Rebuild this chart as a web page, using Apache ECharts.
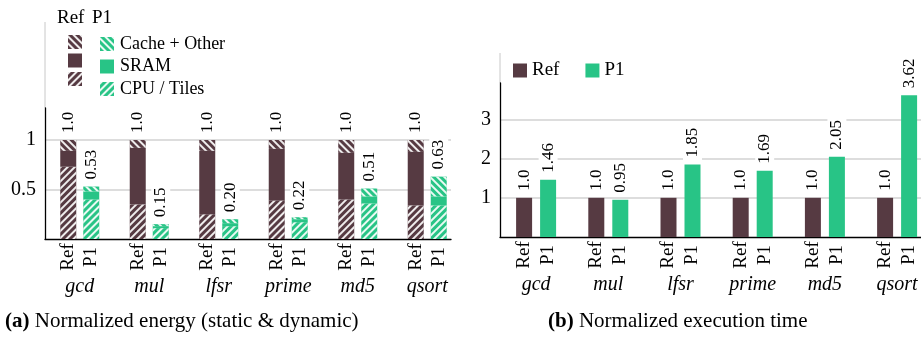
<!DOCTYPE html>
<html>
<head>
<meta charset="utf-8">
<script src="https://cdn.jsdelivr.net/npm/echarts@6/dist/echarts.min.js"></script>
<style>
html,body{margin:0;padding:0;background:#fff;}
#chart{width:921px;height:337px;}
</style>
</head>
<body>
<div id="chart"></div>
<script>
// ---------- data ----------
const categories = ['gcd', 'mul', 'lfsr', 'prime', 'md5', 'qsort'];
const variants = ['Ref', 'P1'];
const componentNames = ['Cache + Other', 'SRAM', 'CPU / Tiles'];

const energyRefCPU   = [0.73, 0.35, 0.25, 0.39, 0.40, 0.34];
const energyRefSRAM  = [0.16, 0.57, 0.64, 0.52, 0.47, 0.54];
const energyRefCache = [0.11, 0.08, 0.11, 0.09, 0.13, 0.12];
const energyP1CPU    = [0.40, 0.11, 0.13, 0.17, 0.36, 0.34];
const energyP1SRAM   = [0.08, 0.02, 0.03, 0.03, 0.07, 0.09];
const energyP1Cache  = [0.05, 0.02, 0.04, 0.02, 0.08, 0.20];
const energyRefTotal = [1.0, 1.0, 1.0, 1.0, 1.0, 1.0];
const energyP1Total  = [0.53, 0.15, 0.20, 0.22, 0.51, 0.63];

const timeRef = [1.0, 1.0, 1.0, 1.0, 1.0, 1.0];
const timeP1  = [1.46, 0.95, 1.85, 1.69, 2.05, 3.62];

const energyTicks = [0.5, 1];
const timeTicks = [1, 2, 3];

// ---------- style ----------
const REF = '#563a42';
const P1C = '#28c486';
const FONT = 'Liberation Serif';
const hatchBack = { symbol: 'rect', symbolSize: 1, color: 'rgba(255,255,255,0.9)', dashArrayX: [1, 0], dashArrayY: [1.4, 2.4], rotation: Math.PI / 4 };
const hatchFwd  = { symbol: 'rect', symbolSize: 1, color: 'rgba(255,255,255,0.9)', dashArrayX: [1, 0], dashArrayY: [1.4, 2.4], rotation: -Math.PI / 4 };

const L = { left: 45, top: 108, width: 406, height: 131, ymax: 1.323, xmax: 5.842, barW: 16, gap: 7 };
const R = { left: 500, top: 83, width: 421, height: 154, ymax: 3.93, xmax: 5.831, barW: 16, gap: 8 };

// value first, position second (encode maps them to y / x) so stacking acts on the value
const pairs = arr => arr.map((v, i) => [v, i + 0.5]);
const ENC = { x: 1, y: 0 };
const subValues = g => {
  const d = (g.barW + g.gap) / 2 / (g.width / g.xmax);
  const out = [];
  categories.forEach((c, i) => { out.push(i + 0.5 - d, i + 0.5 + d); });
  return out;
};

function xAxes(g, idx) {
  return [
    {
      type: 'value', gridIndex: idx, min: 0, max: g.xmax,
      axisLine: { show: true, onZero: false, lineStyle: { color: '#000', width: 1.3 } },
      axisTick: { show: false }, splitLine: { show: false },
      axisLabel: {
        customValues: categories.map((c, i) => i + 0.5),
        formatter: v => categories[Math.round(v - 0.5)] || '',
        fontFamily: FONT, fontStyle: 'italic', fontSize: 20, color: '#000', margin: 38
      }
    },
    {
      type: 'value', gridIndex: idx, min: 0, max: g.xmax, position: 'bottom',
      axisLine: { show: false }, axisTick: { show: false }, splitLine: { show: false },
      axisLabel: {
        customValues: subValues(g),
        formatter: v => (v - Math.floor(v) < 0.5 ? variants[0] : variants[1]),
        rotate: 90, align: 'center', verticalAlign: 'middle', margin: 18,
        fontFamily: FONT, fontSize: 19, color: '#000'
      }
    }
  ];
}

function yAxis(g, idx, interval, ticks) {
  return {
    type: 'value', gridIndex: idx, min: 0, max: g.ymax, interval: interval,
    axisLine: { show: true, lineStyle: { color: '#000', width: 1.3 } },
    axisTick: { show: false },
    splitLine: { show: true, showMinLine: false, showMaxLine: false, lineStyle: { color: '#d2d2d2', width: 1.5 } },
    axisLabel: {
      customValues: ticks,
      fontFamily: FONT, fontSize: 20, color: '#000', margin: 9
    }
  };
}

const valueLabel = (fmt) => ({
  show: true, position: 'top', rotate: 90, align: 'left', verticalAlign: 'middle',
  distance: 4, padding: [1, 3, 1, 3], backgroundColor: '#fff',
  fontFamily: FONT, fontSize: 17, color: '#000', formatter: fmt
});

function stackSeries(prefix, stack, color, cpu, sram, cache, totals, digits) {
  const base = { type: 'bar', xAxisIndex: 0, yAxisIndex: 0, stack: stack, encode: ENC,
    barWidth: L.barW, barGap: (L.gap / L.barW * 100) + '%' };
  return [
    Object.assign({}, base, { name: prefix + ' CPU / Tiles', data: pairs(cpu), itemStyle: { color: color, decal: hatchFwd } }),
    Object.assign({}, base, { name: prefix + ' SRAM', data: pairs(sram), itemStyle: { color: color } }),
    Object.assign({}, base, { name: prefix + ' Cache + Other', data: pairs(cache), itemStyle: { color: color, decal: hatchBack },
      label: valueLabel(p => totals[p.dataIndex].toFixed(digits)) })
  ];
}

const series = [].concat(
  stackSeries('Ref', 'ref', REF, energyRefCPU, energyRefSRAM, energyRefCache, energyRefTotal, 1),
  stackSeries('P1', 'p1', P1C, energyP1CPU, energyP1SRAM, energyP1Cache, energyP1Total, 2),
  [
    { name: 'Ref', type: 'bar', xAxisIndex: 2, yAxisIndex: 1, encode: ENC, barWidth: R.barW, barGap: (R.gap / R.barW * 100) + '%',
      data: pairs(timeRef), itemStyle: { color: REF }, label: valueLabel(p => timeRef[p.dataIndex].toFixed(1)) },
    { name: 'P1', type: 'bar', xAxisIndex: 2, yAxisIndex: 1, encode: ENC, barWidth: R.barW, barGap: (R.gap / R.barW * 100) + '%',
      data: pairs(timeP1), itemStyle: { color: P1C }, label: valueLabel(p => timeP1[p.dataIndex].toFixed(2)) }
  ]
);

const legendText = { fontFamily: FONT, fontSize: 18, color: '#000' };

const option = {
  animation: false,
  backgroundColor: '#fff',
  textStyle: { fontFamily: FONT },
  grid: [
    { left: L.left, top: L.top, width: L.width, height: L.height },
    { left: R.left, top: R.top, width: R.width, height: R.height }
  ],
  xAxis: xAxes(L, 0).concat(xAxes(R, 1)),
  yAxis: [yAxis(L, 0, 0.5, energyTicks), yAxis(R, 1, 1, timeTicks)],
  legend: [
    { orient: 'vertical', left: 63, top: 30, itemWidth: 14, itemHeight: 14, itemGap: 4.5, icon: 'rect',
      data: componentNames.map(n => 'Ref ' + n), formatter: () => '', textStyle: legendText, selectedMode: false },
    { orient: 'vertical', left: 95, top: 30, itemWidth: 14, itemHeight: 14, itemGap: 4.5, icon: 'rect',
      data: componentNames.map(n => 'P1 ' + n), formatter: n => n.replace(/^P1 /, ''),
      textStyle: Object.assign({ padding: [0, 0, 0, 1] }, legendText), selectedMode: false },
    { orient: 'horizontal', left: 508, top: 56, itemWidth: 14, itemHeight: 14, itemGap: 26, icon: 'rect',
      data: variants, textStyle: Object.assign({}, legendText, { fontSize: 19 }), selectedMode: false }
  ],
  graphic: [
    { type: 'line', shape: { x1: 45, y1: 22, x2: 45, y2: 108 }, style: { stroke: '#c8c8c8', lineWidth: 1 } },
    { type: 'line', shape: { x1: 500, y1: 53, x2: 500, y2: 83 }, style: { stroke: '#c8c8c8', lineWidth: 1 } },
    { type: 'text', left: 57, top: 9, style: { text: 'Ref', font: '19px "Liberation Serif"', fill: '#000' } },
    { type: 'text', left: 92, top: 9, style: { text: 'P1', font: '19px "Liberation Serif"', fill: '#000' } },
    { type: 'text', left: 5, top: 311, style: { text: '{b|(a)} Normalized energy (static & dynamic)', font: '21px "Liberation Serif"', fill: '#000',
      rich: { b: { fontWeight: 'bold', fontSize: 21, fontFamily: FONT } } } },
    { type: 'text', left: 548, top: 311, style: { text: '{b|(b)} Normalized execution time', font: '21px "Liberation Serif"', fill: '#000',
      rich: { b: { fontWeight: 'bold', fontSize: 21, fontFamily: FONT } } } }
  ],
  series: series
};

const chart = echarts.init(document.getElementById('chart'), null, { renderer: 'canvas' });
chart.setOption(option);
</script>
</body>
</html>
